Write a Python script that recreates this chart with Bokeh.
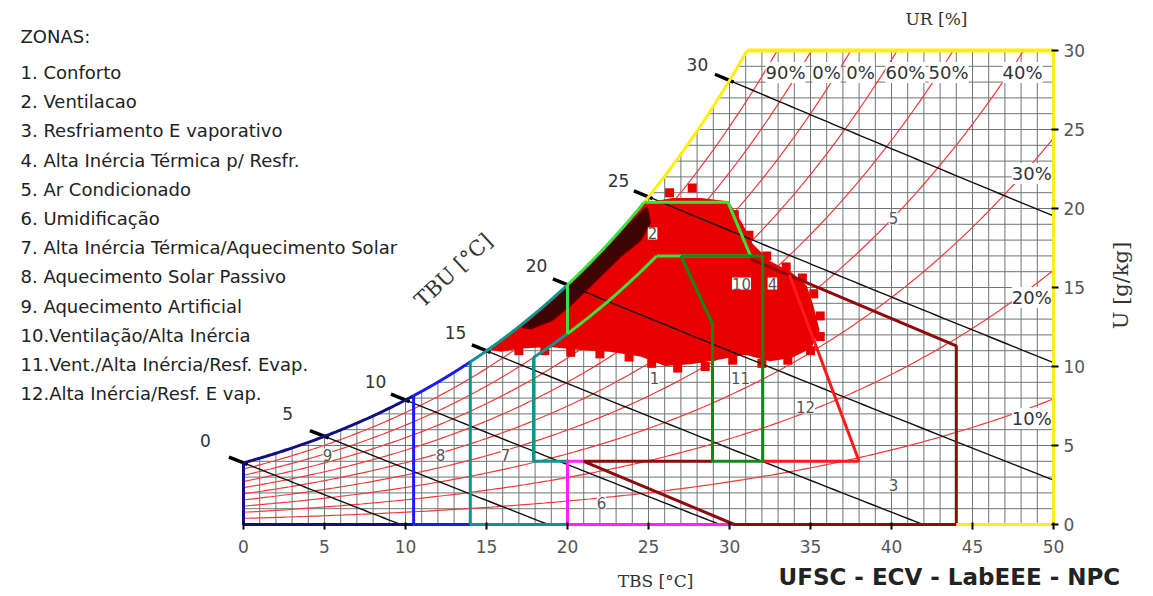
import numpy as np
from bokeh.plotting import figure
from bokeh.models import Label, FixedTicker
from bokeh.embed import file_html
from bokeh.resources import INLINE

# ---------------- data ----------------
PRESSURE_KPA = 98.0
TBS_TICKS = [0, 5, 10, 15, 20, 25, 30, 35, 40, 45, 50]
U_TICKS = [0, 5, 10, 15, 20, 25, 30]
RH_LEVELS = [10, 20, 30, 40, 50, 60, 70, 80, 90]
TBU_LEVELS = [0, 5, 10, 15, 20, 25, 30]
TBU_LABEL_T = [-2.35, 2.72, 8.15, 13.09, 18.09, 23.15, 28.02]
TBU_LABEL_W = [5.32, 7.03, 9.05, 12.15, 16.39, 21.77, 29.11]

RH_TOP_TEXT = ["40%", "50%", "60%", "0%", "0%", "90%"]
RH_TOP_T = [48.09, 43.52, 40.86, 38.09, 35.99, 33.46]
RH_TOP_W = 28.6
RH_SIDE_TEXT = ["30%", "20%", "10%"]
RH_SIDE_W = [22.22, 14.37, 6.71]

ZONE_TITLE = "ZONAS:"
ZONE_NAMES = [
    "1. Conforto",
    "2. Ventilacao",
    "3. Resfriamento E vaporativo",
    "4. Alta Inércia Térmica p/ Resfr.",
    "5. Ar Condicionado",
    "6. Umidificação",
    "7. Alta Inércia Térmica/Aquecimento Solar",
    "8. Aquecimento Solar Passivo",
    "9. Aquecimento Artificial",
    "10.Ventilação/Alta Inércia",
    "11.Vent./Alta Inércia/Resf. Evap.",
    "12.Alta Inércia/Resf. E vap.",
]
ZONE_NUMS = ["1", "2", "3", "4", "5", "6", "7", "8", "9", "10", "11", "12"]
ZONE_LABEL_T = [25.37, 25.25, 40.12, 32.65, 40.12, 22.10, 16.17, 12.16, 5.19, 30.74, 30.68, 34.69]
ZONE_LABEL_W = [9.30, 18.42, 2.47, 15.25, 19.37, 1.39, 4.43, 4.43, 4.43, 15.25, 9.30, 7.41]

# zone boundaries: saturation-curve pieces, RH80% pieces, straight polylines
SAT_SEGMENTS = [(0.0, 10.5, "#101080"), (10.5, 14.0, "#1a1aff"), (14.0, 20.0, "#13928c"),
                (20.0, 24.7, "#3ee03a"), (24.7, None, "#ffee10")]
RH80_SEGMENTS = [(17.9, 20.0, "#13928c"), (20.0, 25.5, "#3ee03a")]
ZONE_POLYLINES = [
    ("#101080", [0.0, 0.0, 10.5], ["sat", 0.0, 0.0]),
    ("#1a1aff", [10.5, 10.5], ["sat", 0.0]),
    ("#1a1aff", [10.5, 14.0], [0.0, 0.0]),
    ("#13928c", [14.0, 14.0], ["sat", 0.0]),
    ("#13928c", [14.0, 20.0], [0.0, 0.0]),
    ("#13928c", [17.9, 17.9, 20.0], ["rh80", 4.0, 4.0]),
    ("#ff22ff", [30.3, 20.0, 20.0, 21.0], [0.0, 0.0, 4.0, 4.0]),
    ("#8f0a0a", [28.95, 21.0, 30.3, 44.0, 44.0, 31.3], [4.0, 4.0, 0.0, 0.0, 11.3, 16.8]),
    ("#ff1a1a", [32.05, 38.0, 33.7], [4.0, 4.0, 15.8]),
    ("#3ee03a", [20.0, 20.0], ["rh80", "sat"]),
    ("#3ee03a", [24.7, 29.9, 31.3, 25.5], [20.4, 20.4, 17.0, 17.0]),
    ("#0f8a1a", [27.0, 32.05, 32.05, 28.95, 28.95, 27.0], [17.0, 17.0, 4.0, 4.0, 12.7, 17.0]),
    ("#ffee10", [50.0, 50.0, 44.0], [30.0, 0.0, 0.0]),
]

# climate data cloud (outline), dense band and edge points
CLOUD_T = [15.3, 17.1, 18.6, 20.2, 22.0, 23.6, 24.8, 26.5, 28.2, 29.9, 30.7, 31.4, 32.5, 33.8,
           34.7, 35.1, 35.5, 35.0, 33.8, 32.5, 31.0, 29.4, 27.6, 26.0, 24.5, 22.6, 20.8, 18.9, 17.1, 15.9]
CLOUD_W = [11.1, 12.5, 13.8, 15.2, 17.0, 18.8, 20.3, 20.6, 20.6, 20.4, 19.1, 17.7, 16.6, 15.9,
           15.1, 13.9, 12.3, 11.2, 10.6, 10.4, 10.8, 10.5, 10.2, 10.1, 10.7, 11.0, 11.1, 11.3, 11.2, 11.0]
DARK_T = [17.2, 18.6, 20.5, 22.3, 23.9, 24.9, 25.1, 24.5, 23.3, 21.7, 20.2, 19.0, 17.7]
DARK_W = [12.5, 13.7, 15.5, 17.4, 19.1, 20.1, 19.1, 18.0, 17.0, 15.4, 13.9, 12.9, 12.4]
DOTS_T = [27.7, 26.3, 30.3, 31.2, 32.3, 33.5, 34.5, 35.2, 35.6, 35.6, 35.0, 33.6, 32.0, 30.2,
          28.5, 26.8, 25.2, 23.8, 22.0, 20.2, 18.6, 17.0]
DOTS_W = [21.3, 21.0, 19.6, 18.3, 17.0, 16.3, 15.6, 14.6, 13.2, 11.9, 11.0, 10.4, 10.2, 10.4,
          10.0, 9.9, 10.2, 10.6, 10.8, 10.9, 11.0, 11.0]


# ---------------- psychrometrics ----------------
def psat(t):
    return 0.61094 * np.exp(17.625 * t / (t + 243.04))


def w_rh(t, phi):
    p = phi * psat(t)
    return 1000 * 0.622 * p / (PRESSURE_KPA - p)


def w_sat(t):
    return w_rh(t, 1.0)


def t_for_w(w_gkg, phi=1.0):
    w = w_gkg / 1000.0
    p = w * PRESSURE_KPA / (0.622 + w) / phi
    a = np.log(p / 0.61094)
    return 243.04 * a / (17.625 - a)


def w_wb(t, twb):
    ws = w_sat(twb) / 1000.0
    return 1000 * ((2501 - 2.326 * twb) * ws - 1.006 * (t - twb)) / (2501 + 1.86 * t - 4.186 * twb)


T_TOP = float(t_for_w(30.0))

# ---------------- figure ----------------
W_PX, H_PX = 1153, 596
X0_PX, PX_PER_T = 243.0, 16.2
Y0_PX, PX_PER_W = 524.0, 15.8
p = figure(width=W_PX, height=H_PX,
           x_range=(-X0_PX / PX_PER_T, (W_PX - X0_PX) / PX_PER_T),
           y_range=((Y0_PX - H_PX) / PX_PER_W, Y0_PX / PX_PER_W),
           output_backend="svg", toolbar_location=None, y_axis_location="right",
           min_border_left=0, min_border_right=0, min_border_top=0, min_border_bottom=0)
p.outline_line_color = None
p.xgrid.visible = False
p.ygrid.visible = False
p.background_fill_color = "white"
p.border_fill_color = "white"

for ax in (p.xaxis[0], p.yaxis[0]):
    ax.axis_line_color = None
    ax.major_tick_line_color = "black"
    ax.major_tick_line_width = 2
    ax.major_tick_in = 2
    ax.major_tick_out = 5
    ax.minor_tick_line_color = None
    ax.major_label_text_font = "DejaVu Sans"
    ax.major_label_text_font_size = "17px"
    ax.major_label_text_color = "#555555"
p.xaxis.ticker = FixedTicker(ticks=TBS_TICKS)
p.yaxis.ticker = FixedTicker(ticks=U_TICKS)
p.xaxis.fixed_location = 0
p.yaxis.fixed_location = 50
p.xaxis.major_label_standoff = 10
p.yaxis.major_label_standoff = 5

# grid under the saturation curve
gx, gy = [], []
for t in range(0, 51):
    gx.append([t, t])
    gy.append([0, min(float(w_sat(t)), 30.0)])
for w in range(1, 30):
    gx.append([max(0.0, float(t_for_w(w))), 50])
    gy.append([w, w])
p.multi_line(gx, gy, line_color="#6e7676", line_width=1)

# relative humidity curves
for rh in RH_LEVELS:
    phi = rh / 100.0
    t_end = min(50.0, float(t_for_w(30.0, phi)))
    ts = np.linspace(0, t_end, 200)
    p.line(ts, w_rh(ts, phi), line_color="#f03a3a", line_width=1.2)

# climate data
p.patch(CLOUD_T, CLOUD_W, fill_color="#e80000", line_color="#e80000", line_width=2)
p.scatter(DOTS_T, DOTS_W, marker="square", size=9, fill_color="#e80000", line_color=None)
p.patch(DARK_T, DARK_W, fill_color="#2a0404", fill_alpha=0.9, line_color="#5a0000", line_width=2)

# wet-bulb lines
for twb in TBU_LEVELS:
    ws = w_sat(twb) / 1000.0
    t_end = min(50.0, twb + (2501 - 2.326 * twb) * ws / 1.006)
    ts = np.linspace(twb, t_end, 60)
    p.line(ts, w_wb(ts, twb), line_color="#111111", line_width=1.4)
    tk = np.array([twb - 0.9, twb + 0.25])
    p.line(tk, w_wb(tk, twb), line_color="black", line_width=3.5)

# zone boundaries
for t0, t1, col in SAT_SEGMENTS:
    t1 = T_TOP if t1 is None else t1
    ts = np.linspace(t0, t1, 80)
    p.line(ts, w_sat(ts), line_color=col, line_width=3)
for t0, t1, col in RH80_SEGMENTS:
    ts = np.linspace(t0, t1, 40)
    p.line(ts, w_rh(ts, 0.8), line_color=col, line_width=3)
for col, ts, ws in ZONE_POLYLINES:
    ys = []
    for t, w in zip(ts, ws):
        if w == "sat":
            ys.append(float(w_sat(t)))
        elif w == "rh80":
            ys.append(float(w_rh(t, 0.8)))
        else:
            ys.append(w)
    p.line(ts, ys, line_color=col, line_width=3)
p.line([T_TOP, 50.0], [30.0, 30.0], line_color="#ffee10", line_width=4)


# ---------------- texts ----------------
def lab(x, y, text, size, color="#333333", font="DejaVu Sans", align="center", baseline="middle",
        bg=None, angle=0.0, style="normal"):
    kw = dict(x=x, y=y, text=text, text_font=font, text_font_size=size, text_color=color,
              text_align=align, text_baseline=baseline, angle=angle, text_font_style=style)
    if bg:
        kw["background_fill_color"] = bg
    p.add_layout(Label(**kw))


def wy(y_px):
    return (Y0_PX - y_px) / PX_PER_W


def tx(x_px):
    return (x_px - X0_PX) / PX_PER_T


for t, w, txt in zip(TBU_LABEL_T, TBU_LABEL_W, [str(v) for v in TBU_LEVELS]):
    lab(t, w, txt, "17px")
for t, txt in zip(RH_TOP_T, RH_TOP_TEXT):
    lab(t, RH_TOP_W, txt, "18px", bg="white")
for w, txt in zip(RH_SIDE_W, RH_SIDE_TEXT):
    lab(49.9, w, txt, "18px", align="right", bg="white")
for t, w, txt in zip(ZONE_LABEL_T, ZONE_LABEL_W, ZONE_NUMS):
    lab(t, w, txt, "15px", color="#555555", bg="white")

lab(tx(20), wy(36), ZONE_TITLE, "18px", color="#222222", align="left")
for i, name in enumerate(ZONE_NAMES):
    lab(tx(20), wy(72 + i * 29.2), name, "18px", color="#222222", align="left")

lab(tx(453), wy(270), "TBU [°C]", "21px", font="DejaVu Serif", angle=0.75)
lab(tx(936), wy(18), "UR [%]", "17px", font="DejaVu Serif")
lab(tx(655), wy(580), "TBS [°C]", "17px", font="DejaVu Serif")
lab(tx(1120), wy(285), "U [g/kg]", "21px", font="DejaVu Serif", angle=np.pi / 2)
lab(tx(778), wy(576), "UFSC - ECV - LabEEE - NPC", "23px", color="#222222", font="DejaVu Sans",
    align="left", baseline="middle", style="bold")

open("out.html", "w").write(file_html(p, INLINE))
